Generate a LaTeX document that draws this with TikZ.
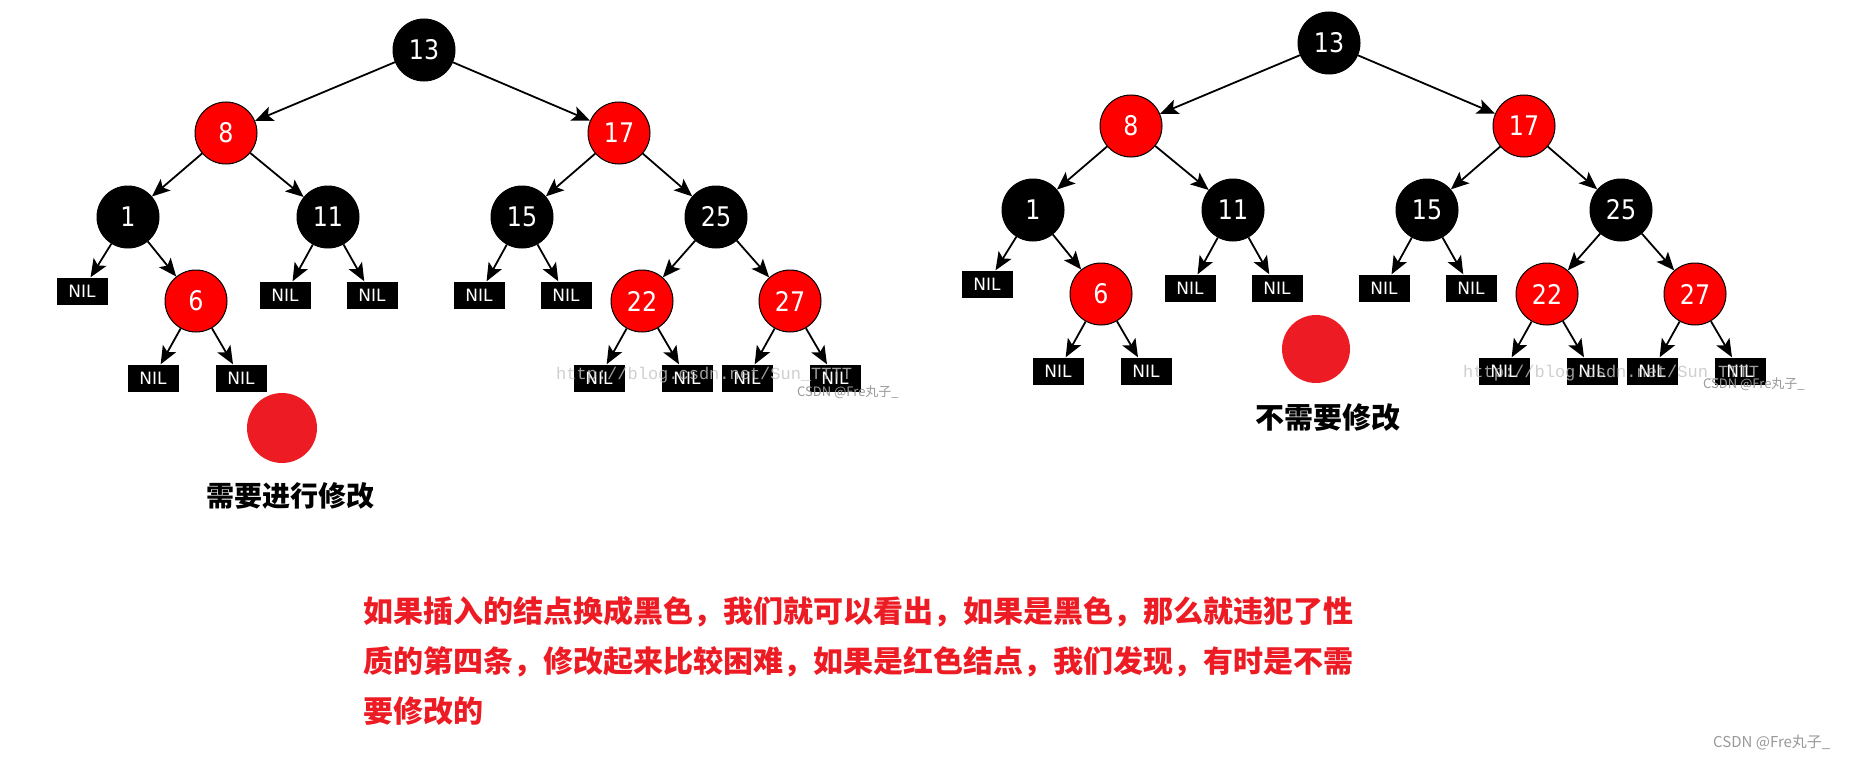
\documentclass[tikz,border=0pt]{standalone}
\usepackage{fontspec}
\usetikzlibrary{arrows.meta}
\newfontfamily\cjk{Noto Sans CJK SC}
\newfontfamily\numfont{DejaVu Sans}[FakeStretch=0.88]
\newfontfamily\nilfont{DejaVu Sans}
\newfontfamily\wmfont{Liberation Mono}
\definecolor{nodered}{HTML}{FF0000}
\definecolor{paintred}{HTML}{ED1C24}
\definecolor{wmgray}{HTML}{C4C4C4}
\definecolor{csdngray}{HTML}{999999}
\newcommand\rbtree[1]{%
 \node[bnode] (#1n13) at (424,50) {13};
 \node[rnode] (#1n8) at (226,133) {8};
 \node[rnode] (#1n17) at (619,133) {17};
 \node[bnode] (#1n1) at (128,217) {1};
 \node[bnode] (#1n11) at (328,217) {11};
 \node[bnode] (#1n15) at (522,217) {15};
 \node[bnode] (#1n25) at (716,217) {25};
 \node[nilbox] (#1a) at (82,291) {NIL};
 \node[rnode] (#1n6) at (196,301) {6};
 \node[nilbox] (#1b) at (285,295) {NIL};
 \node[nilbox] (#1c) at (372,295) {NIL};
 \node[nilbox] (#1d) at (479,295) {NIL};
 \node[nilbox] (#1e) at (566,295) {NIL};
 \node[rnode] (#1n22) at (642,301) {22};
 \node[rnode] (#1n27) at (790,301) {27};
 \node[nilbox] (#1f) at (153,378) {NIL};
 \node[nilbox] (#1g) at (241,378) {NIL};
 \node[nilbox] (#1h) at (599,378) {NIL};
 \node[nilbox] (#1i) at (687,378) {NIL};
 \node[nilbox] (#1j) at (747,378) {NIL};
 \node[nilbox] (#1k) at (835,378) {NIL};
 \draw[treeedge] (#1n13) -- (#1n8);
 \draw[treeedge] (#1n13) -- (#1n17);
 \draw[treeedge] (#1n8) -- (#1n1);
 \draw[treeedge] (#1n8) -- (#1n11);
 \draw[treeedge] (#1n17) -- (#1n15);
 \draw[treeedge] (#1n17) -- (#1n25);
 \draw[treeedge] (#1n1) -- (#1a);
 \draw[treeedge] (#1n1) -- (#1n6);
 \draw[treeedge] (#1n11) -- (#1b);
 \draw[treeedge] (#1n11) -- (#1c);
 \draw[treeedge] (#1n15) -- (#1d);
 \draw[treeedge] (#1n15) -- (#1e);
 \draw[treeedge] (#1n25) -- (#1n22);
 \draw[treeedge] (#1n25) -- (#1n27);
 \draw[treeedge] (#1n6) -- (#1f);
 \draw[treeedge] (#1n6) -- (#1g);
 \draw[treeedge] (#1n22) -- (#1h);
 \draw[treeedge] (#1n22) -- (#1i);
 \draw[treeedge] (#1n27) -- (#1j);
 \draw[treeedge] (#1n27) -- (#1k);
}
\begin{document}
\begin{tikzpicture}[x=1pt,y=-1pt,
  bnode/.style={circle, fill=black, draw=black, line width=1pt, minimum size=62pt, inner sep=0pt, text=white, font=\numfont\fontsize{27}{27}\selectfont},
  rnode/.style={bnode, fill=nodered},
  nilbox/.style={rectangle, fill=black, minimum width=51pt, minimum height=27pt, inner sep=0pt, text=white, font=\nilfont\fontsize{17}{17}\selectfont},
  treeedge/.style={-{Stealth[length=18pt,width=15pt,inset=4pt]}, line width=1.8pt},
  dot/.style={circle, fill=paintred, minimum size=#1, inner sep=0pt},
  label/.style={font=\cjk\bfseries\fontsize{#1}{#1}\selectfont, text=black, inner sep=0pt},
  para/.style={font=\cjk\bfseries\fontsize{30}{30}\selectfont, text=paintred, inner sep=0pt, anchor=west},
  wm/.style={font=\wmfont\fontsize{17}{17}\selectfont, text=wmgray, opacity=0.8, inner sep=0pt, anchor=west},
  csdn/.style={font=\cjk\fontsize{#1}{#1}\selectfont, text=csdngray, inner sep=0pt, anchor=west}
]
\useasboundingbox[fill=white] (0,0) rectangle (1849,760);
\begin{scope}
 \rbtree{L}
\end{scope}
\begin{scope}[xshift=905pt, yshift=7pt]
 \rbtree{R}
\end{scope}
% watermarks
\node[wm] (wmL) at (556,375) {http://blog.csdn.net/Sun\_TTTT};
\node[csdn=13] (csL) at (797,392) {CSDN @Fre丸子\_};
\node[wm] (wmR) at (1463,373) {http://blog.csdn.net/Sun\_TTTT};
\node[csdn=13] (csR) at (1703,384) {CSDN @Fre丸子\_};
% inserted nodes
\node[dot=70pt] (insL) at (282,428) {};
\node[dot=68pt] (insR) at (1316,349) {};
\node[label=28] (labL) at (290,496) {需要进行修改};
\node[label=29] (labR) at (1328,418) {不需要修改};
% paragraph
\node[para] (p1) at (363,612) {如果插入的结点换成黑色，我们就可以看出，如果是黑色，那么就违犯了性};
\node[para] (p2) at (363,662) {质的第四条，修改起来比较困难，如果是红色结点，我们发现，有时是不需};
\node[para] (p3) at (363,711) {要修改的};
\node[csdn=15] (csB) at (1713,743) {CSDN @Fre丸子\_};
\end{tikzpicture}
\end{document}
